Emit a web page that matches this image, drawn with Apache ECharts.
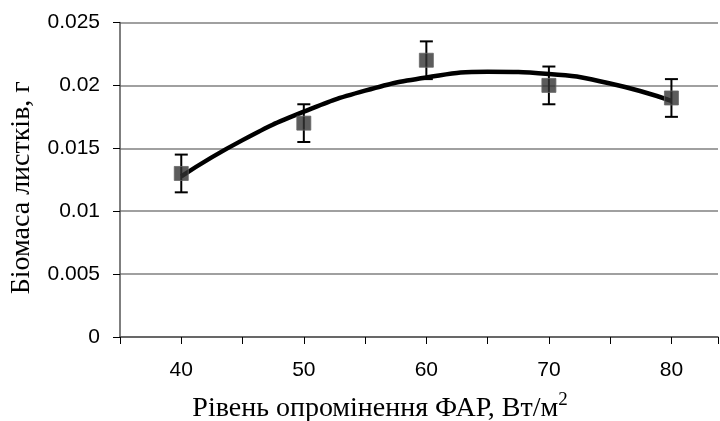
<!DOCTYPE html>
<html>
<head>
<meta charset="utf-8">
<script src="https://cdn.jsdelivr.net/npm/echarts@6/dist/echarts.min.js"></script>
<style>
  html, body { margin: 0; padding: 0; background: #fff; }
  #chart { width: 720px; height: 421px; }
</style>
</head>
<body>
<div id="chart"></div>
<script>
// рівень ФАР, Вт/м2
const xLevels = [40, 50, 60, 70, 80];
// біомаса листків, г
const biomass = [0.013, 0.017, 0.022, 0.020, 0.019];
const errLow = [0.0115, 0.0155, 0.0205, 0.0185, 0.0175];
const errHigh = [0.0145, 0.0185, 0.0235, 0.0215, 0.0205];
// лінія тренду
const trendX = [40, 45, 50, 55, 60, 65, 70, 75, 80];
const trendY = [0.01277, 0.01565, 0.01791, 0.01958, 0.02063, 0.02108, 0.02091, 0.02015, 0.01877];

const tickFont = { fontFamily: "Liberation Sans, Arial", fontSize: 21, color: "#000" };
const titleFont = "Liberation Serif, Times New Roman";

const chart = echarts.init(document.getElementById("chart"));

const option = {
  backgroundColor: "#fff",
  animation: false,
  grid: { left: 120, right: 2, top: 22.5, bottom: 84, outerBoundsMode: "none" },
  xAxis: {
    type: "value",
    min: 35,
    max: 83.8,
    interval: 5,
    axisLine: { lineStyle: { color: "#555", width: 1.5 } },
    axisTick: { length: 7, lineStyle: { color: "#000", width: 1 } },
    splitLine: { show: false },
    axisLabel: {
      ...tickFont,
      margin: 23,
      formatter: v => (v % 10 === 0 ? String(v) : "")
    },
    name: "Рівень опромінення ФАР, Вт/м{sup|2}",
    nameLocation: "middle",
    nameGap: 54,
    nameTextStyle: {
      fontFamily: titleFont,
      fontSize: 28,
      color: "#000",
      padding: [0, 78, 0, 0],
      rich: {
        sup: { fontFamily: titleFont, fontSize: 19, color: "#000", verticalAlign: "top", padding: [0, 0, 16, 0] }
      }
    }
  },
  yAxis: {
    type: "value",
    min: 0,
    max: 0.025,
    interval: 0.005,
    axisLine: { show: true, lineStyle: { color: "#555", width: 1.5 } },
    axisTick: { show: true, length: 7, lineStyle: { color: "#000", width: 1 } },
    splitLine: { lineStyle: { color: "#808080", width: 1.5 } },
    axisLabel: {
      ...tickFont,
      margin: 20,
      formatter: v => (v === 0 ? "0" : String(+v.toFixed(3)))
    },
    name: "Біомаса листків, г",
    nameLocation: "middle",
    nameGap: 84,
    nameTextStyle: { fontFamily: titleFont, fontSize: 28, color: "#000", padding: [0, 16, 0, 0] }
  },
  series: [
    {
      name: "trend",
      type: "line",
      smooth: true,
      symbol: "none",
      data: trendX.map((x, i) => [x, trendY[i]]),
      lineStyle: { color: "#000", width: 4.5 },
      z: 3
    },
    {
      name: "errors",
      type: "custom",
      data: xLevels.map((x, i) => [x, errLow[i], errHigh[i]]),
      renderItem: function (params, api) {
        const lo = api.coord([api.value(0), api.value(1)]);
        const hi = api.coord([api.value(0), api.value(2)]);
        const w = 6.5;
        const style = { stroke: "#000", lineWidth: 2 };
        return {
          type: "group",
          children: [
            { type: "line", shape: { x1: hi[0], y1: hi[1], x2: lo[0], y2: lo[1] }, style },
            { type: "line", shape: { x1: hi[0] - w, y1: hi[1], x2: hi[0] + w, y2: hi[1] }, style },
            { type: "line", shape: { x1: lo[0] - w, y1: lo[1], x2: lo[0] + w, y2: lo[1] }, style }
          ]
        };
      },
      z: 2
    },
    {
      name: "biomass",
      type: "scatter",
      symbol: "rect",
      symbolSize: 14,
      data: xLevels.map((x, i) => [x, biomass[i]]),
      itemStyle: { color: "#333", borderColor: "#666", borderWidth: 1 },
      z: 4
    }
  ]
};

chart.setOption(option);
</script>
</body>
</html>
